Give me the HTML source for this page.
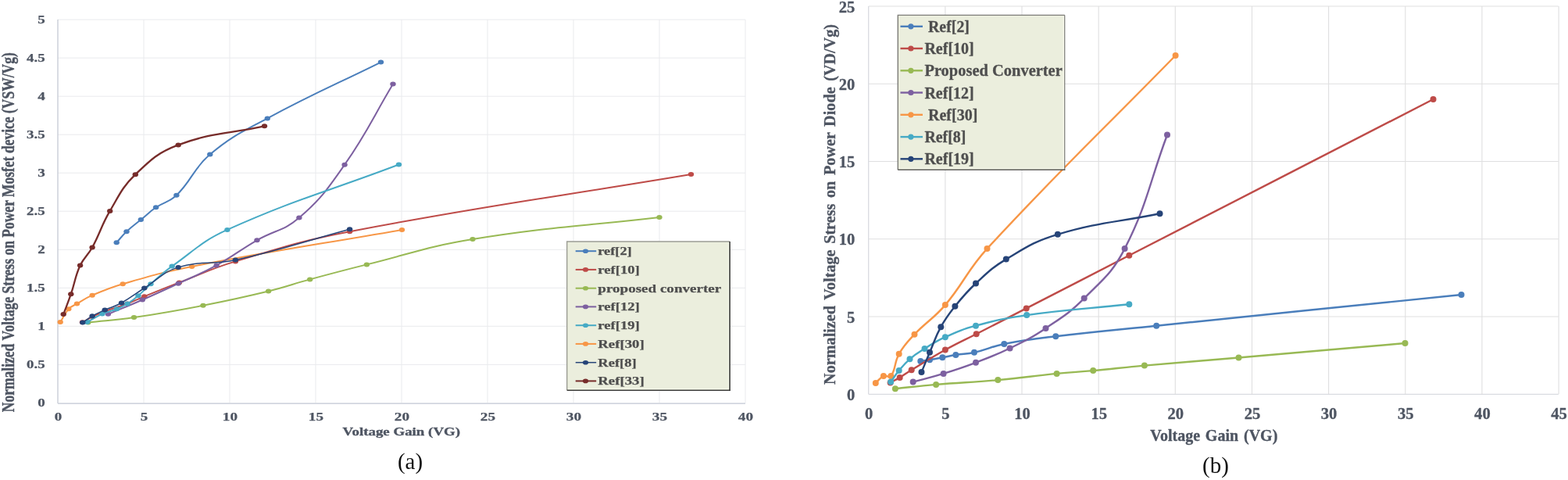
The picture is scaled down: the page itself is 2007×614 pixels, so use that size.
<!DOCTYPE html>
<html lang="en">
<head>
<meta charset="utf-8">
<title>Normalized voltage stress comparison</title>
<style>
html,body{margin:0;padding:0;background:#fff;}
body{width:2007px;height:614px;overflow:hidden;}
svg{display:block;filter:blur(0.45px);}
text{font-family:"Liberation Serif","DejaVu Serif",serif;}
</style>
</head>
<body>
<svg width="2007" height="614" viewBox="0 0 2007 614">
<rect x="0" y="0" width="2007" height="614" fill="#ffffff"/>
<g stroke="#E9EAED" stroke-width="1.0" fill="none"><line x1="184.0" y1="25.1" x2="184.0" y2="515.4"/><line x1="294.0" y1="25.1" x2="294.0" y2="515.4"/><line x1="404.0" y1="25.1" x2="404.0" y2="515.4"/><line x1="514.0" y1="25.1" x2="514.0" y2="515.4"/><line x1="624.0" y1="25.1" x2="624.0" y2="515.4"/><line x1="734.0" y1="25.1" x2="734.0" y2="515.4"/><line x1="844.0" y1="25.1" x2="844.0" y2="515.4"/><line x1="954.0" y1="25.1" x2="954.0" y2="515.4"/><line x1="74.0" y1="466.4" x2="954.0" y2="466.4"/><line x1="74.0" y1="417.3" x2="954.0" y2="417.3"/><line x1="74.0" y1="368.3" x2="954.0" y2="368.3"/><line x1="74.0" y1="319.3" x2="954.0" y2="319.3"/><line x1="74.0" y1="270.2" x2="954.0" y2="270.2"/><line x1="74.0" y1="221.2" x2="954.0" y2="221.2"/><line x1="74.0" y1="172.2" x2="954.0" y2="172.2"/><line x1="74.0" y1="123.2" x2="954.0" y2="123.2"/><line x1="74.0" y1="74.1" x2="954.0" y2="74.1"/><line x1="74.0" y1="25.1" x2="954.0" y2="25.1"/></g>
<line x1="74.0" y1="25.1" x2="74.0" y2="516.1" stroke="#CDD1DA" stroke-width="1.5"/>
<line x1="74.0" y1="516.1" x2="954.0" y2="516.1" stroke="#D2D6DF" stroke-width="1.6"/>
<path d="M112.8,412.6 C137.7,409.8 146.7,409.8 171.5,406.1 C209.2,400.5 222.5,398.1 260.0,390.8 C295.7,383.8 308.3,381.1 343.6,372.5 C366.4,366.9 374.1,363.5 396.7,357.4 C427.5,349.0 438.4,346.1 469.4,338.4 C526.9,324.2 546.6,315.4 605.0,306.0 C705.8,289.7 742.4,289.9 844.0,278.0" fill="none" stroke="#98B954" stroke-width="2.0" stroke-linecap="round" stroke-linejoin="round"/>
<ellipse cx="112.8" cy="412.6" rx="3.7" ry="3.0" fill="#98B954"/><ellipse cx="171.5" cy="406.1" rx="3.7" ry="3.0" fill="#98B954"/><ellipse cx="260.0" cy="390.8" rx="3.7" ry="3.0" fill="#98B954"/><ellipse cx="343.6" cy="372.5" rx="3.7" ry="3.0" fill="#98B954"/><ellipse cx="396.7" cy="357.4" rx="3.7" ry="3.0" fill="#98B954"/><ellipse cx="469.4" cy="338.4" rx="3.7" ry="3.0" fill="#98B954"/><ellipse cx="605.0" cy="306.0" rx="3.7" ry="3.0" fill="#98B954"/><ellipse cx="844.0" cy="278.0" rx="3.7" ry="3.0" fill="#98B954"/>
<path d="M77.2,412.1 C81.7,405.0 82.3,401.4 87.8,395.3 C91.3,391.4 93.8,391.2 98.5,388.5 C106.7,383.7 109.4,381.5 118.1,377.7 C134.3,370.7 140.2,368.1 157.2,363.2 C194.4,352.5 207.6,348.3 245.6,340.9 C359.4,318.9 400.2,313.9 514.5,294.0" fill="none" stroke="#F79646" stroke-width="2.0" stroke-linecap="round" stroke-linejoin="round"/>
<ellipse cx="77.2" cy="412.1" rx="3.7" ry="3.0" fill="#F79646"/><ellipse cx="87.8" cy="395.3" rx="3.7" ry="3.0" fill="#F79646"/><ellipse cx="98.5" cy="388.5" rx="3.7" ry="3.0" fill="#F79646"/><ellipse cx="118.1" cy="377.7" rx="3.7" ry="3.0" fill="#F79646"/><ellipse cx="157.2" cy="363.2" rx="3.7" ry="3.0" fill="#F79646"/><ellipse cx="245.6" cy="340.9" rx="3.7" ry="3.0" fill="#F79646"/><ellipse cx="514.5" cy="294.0" rx="3.7" ry="3.0" fill="#F79646"/>
<path d="M105.5,412.3 C111.0,409.2 112.8,407.8 118.5,405.0 C125.3,401.7 127.9,400.6 135.0,398.0 C146.8,393.6 151.3,392.9 163.0,388.5 C172.4,384.9 175.5,383.0 184.8,379.2 C203.7,371.5 210.3,368.7 229.4,361.4 C259.9,349.7 270.1,343.7 301.4,334.4 C362.9,316.0 384.6,308.2 447.6,296.2 C632.4,260.9 698.8,254.1 884.5,223.0" fill="none" stroke="#BE4B48" stroke-width="2.0" stroke-linecap="round" stroke-linejoin="round"/>
<ellipse cx="105.5" cy="412.3" rx="3.7" ry="3.0" fill="#BE4B48"/><ellipse cx="118.5" cy="405.0" rx="3.7" ry="3.0" fill="#BE4B48"/><ellipse cx="135.0" cy="398.0" rx="3.7" ry="3.0" fill="#BE4B48"/><ellipse cx="163.0" cy="388.5" rx="3.7" ry="3.0" fill="#BE4B48"/><ellipse cx="184.8" cy="379.2" rx="3.7" ry="3.0" fill="#BE4B48"/><ellipse cx="229.4" cy="361.4" rx="3.7" ry="3.0" fill="#BE4B48"/><ellipse cx="301.4" cy="334.4" rx="3.7" ry="3.0" fill="#BE4B48"/><ellipse cx="447.6" cy="296.2" rx="3.7" ry="3.0" fill="#BE4B48"/><ellipse cx="884.5" cy="223.0" rx="3.7" ry="3.0" fill="#BE4B48"/>
<path d="M138.4,401.8 C157.1,394.0 163.8,391.6 182.3,383.5 C201.9,375.0 208.8,371.7 228.2,362.7 C249.1,353.0 257.0,350.5 277.1,339.4 C299.8,326.9 306.5,320.2 329.0,307.3 C351.5,294.4 363.6,295.3 382.9,278.6 C411.2,254.2 419.3,241.7 441.1,210.7 C470.4,169.0 476.7,151.4 503.0,107.6" fill="none" stroke="#7D60A0" stroke-width="2.0" stroke-linecap="round" stroke-linejoin="round"/>
<ellipse cx="138.4" cy="401.8" rx="3.7" ry="3.0" fill="#7D60A0"/><ellipse cx="182.3" cy="383.5" rx="3.7" ry="3.0" fill="#7D60A0"/><ellipse cx="228.2" cy="362.7" rx="3.7" ry="3.0" fill="#7D60A0"/><ellipse cx="277.1" cy="339.4" rx="3.7" ry="3.0" fill="#7D60A0"/><ellipse cx="329.0" cy="307.3" rx="3.7" ry="3.0" fill="#7D60A0"/><ellipse cx="382.9" cy="278.6" rx="3.7" ry="3.0" fill="#7D60A0"/><ellipse cx="441.1" cy="210.7" rx="3.7" ry="3.0" fill="#7D60A0"/><ellipse cx="503.0" cy="107.6" rx="3.7" ry="3.0" fill="#7D60A0"/>
<path d="M111.6,412.0 C119.8,407.6 122.4,405.4 130.9,401.6 C138.5,398.3 141.7,398.4 149.4,395.3 C155.4,392.9 157.5,391.9 163.0,388.5 C169.3,384.6 171.4,383.0 177.0,378.2 C184.1,372.2 186.0,369.3 193.0,363.2 C204.3,353.3 207.9,349.3 220.2,340.6 C249.6,319.8 258.2,308.6 290.9,293.9 C381.6,253.3 417.2,245.9 510.5,210.5" fill="none" stroke="#46AAC5" stroke-width="2.0" stroke-linecap="round" stroke-linejoin="round"/>
<ellipse cx="111.6" cy="412.0" rx="3.7" ry="3.0" fill="#46AAC5"/><ellipse cx="130.9" cy="401.6" rx="3.7" ry="3.0" fill="#46AAC5"/><ellipse cx="149.4" cy="395.3" rx="3.7" ry="3.0" fill="#46AAC5"/><ellipse cx="163.0" cy="388.5" rx="3.7" ry="3.0" fill="#46AAC5"/><ellipse cx="177.0" cy="378.2" rx="3.7" ry="3.0" fill="#46AAC5"/><ellipse cx="193.0" cy="363.2" rx="3.7" ry="3.0" fill="#46AAC5"/><ellipse cx="220.2" cy="340.6" rx="3.7" ry="3.0" fill="#46AAC5"/><ellipse cx="290.9" cy="293.9" rx="3.7" ry="3.0" fill="#46AAC5"/><ellipse cx="510.5" cy="210.5" rx="3.7" ry="3.0" fill="#46AAC5"/>
<path d="M105.8,412.6 C111.0,409.1 112.6,407.4 118.1,404.3 C124.7,400.6 127.3,399.6 134.2,396.5 C143.2,392.5 146.9,392.2 155.5,387.5 C168.4,380.3 172.2,376.4 184.8,368.5 C203.1,357.0 208.0,348.1 228.2,341.9 C257.5,332.9 270.8,339.4 301.4,332.6 C364.1,318.7 385.5,309.9 447.6,293.2" fill="none" stroke="#264478" stroke-width="1.5" stroke-linecap="round" stroke-linejoin="round"/>
<ellipse cx="105.8" cy="412.6" rx="3.7" ry="3.0" fill="#264478"/><ellipse cx="118.1" cy="404.3" rx="3.7" ry="3.0" fill="#264478"/><ellipse cx="134.2" cy="396.5" rx="3.7" ry="3.0" fill="#264478"/><ellipse cx="155.5" cy="387.5" rx="3.7" ry="3.0" fill="#264478"/><ellipse cx="184.8" cy="368.5" rx="3.7" ry="3.0" fill="#264478"/><ellipse cx="228.2" cy="341.9" rx="3.7" ry="3.0" fill="#264478"/><ellipse cx="301.4" cy="332.6" rx="3.7" ry="3.0" fill="#264478"/><ellipse cx="447.6" cy="293.2" rx="3.7" ry="3.0" fill="#264478"/>
<path d="M149.2,310.3 C154.6,304.3 156.1,301.7 162.0,296.2 C169.3,289.3 172.5,287.5 180.3,281.1 C188.5,274.4 190.9,271.3 199.6,265.3 C210.3,258.0 216.7,258.8 225.9,249.8 C246.2,230.0 247.1,215.9 268.8,197.6 C296.6,174.1 309.9,168.9 342.3,151.4 C402.8,118.7 425.8,110.1 487.5,79.6" fill="none" stroke="#4A7EBB" stroke-width="2.0" stroke-linecap="round" stroke-linejoin="round"/>
<ellipse cx="149.2" cy="310.3" rx="3.7" ry="3.0" fill="#4A7EBB"/><ellipse cx="162.0" cy="296.2" rx="3.7" ry="3.0" fill="#4A7EBB"/><ellipse cx="180.3" cy="281.1" rx="3.7" ry="3.0" fill="#4A7EBB"/><ellipse cx="199.6" cy="265.3" rx="3.7" ry="3.0" fill="#4A7EBB"/><ellipse cx="225.9" cy="249.8" rx="3.7" ry="3.0" fill="#4A7EBB"/><ellipse cx="268.8" cy="197.6" rx="3.7" ry="3.0" fill="#4A7EBB"/><ellipse cx="342.3" cy="151.4" rx="3.7" ry="3.0" fill="#4A7EBB"/><ellipse cx="487.5" cy="79.6" rx="3.7" ry="3.0" fill="#4A7EBB"/>
<path d="M81.2,402.0 C85.3,391.0 87.0,387.3 90.8,376.2 C96.1,360.7 95.9,354.3 102.6,339.6 C107.5,328.9 112.4,326.9 118.1,316.5 C128.6,297.2 129.5,288.8 140.7,269.9 C153.0,249.1 156.2,239.7 173.3,223.2 C193.4,203.8 202.1,195.2 228.2,185.4 C272.3,168.9 291.6,171.5 338.5,161.3" fill="none" stroke="#772C2A" stroke-width="2.3" stroke-linecap="round" stroke-linejoin="round"/>
<ellipse cx="81.2" cy="402.0" rx="3.7" ry="3.0" fill="#772C2A"/><ellipse cx="90.8" cy="376.2" rx="3.7" ry="3.0" fill="#772C2A"/><ellipse cx="102.6" cy="339.6" rx="3.7" ry="3.0" fill="#772C2A"/><ellipse cx="118.1" cy="316.5" rx="3.7" ry="3.0" fill="#772C2A"/><ellipse cx="140.7" cy="269.9" rx="3.7" ry="3.0" fill="#772C2A"/><ellipse cx="173.3" cy="223.2" rx="3.7" ry="3.0" fill="#772C2A"/><ellipse cx="228.2" cy="185.4" rx="3.7" ry="3.0" fill="#772C2A"/><ellipse cx="338.5" cy="161.3" rx="3.7" ry="3.0" fill="#772C2A"/>
<text x="57.7" y="520.4" font-size="14.6" text-anchor="end" fill="#4E5562" font-weight="bold" textLength="9.5" lengthAdjust="spacingAndGlyphs" stroke="#4E5562" stroke-width="0.25" stroke-linejoin="round">0</text>
<text x="57.7" y="471.4" font-size="14.6" text-anchor="end" fill="#4E5562" font-weight="bold" textLength="23.6" lengthAdjust="spacingAndGlyphs" stroke="#4E5562" stroke-width="0.25" stroke-linejoin="round">0.5</text>
<text x="57.7" y="422.3" font-size="14.6" text-anchor="end" fill="#4E5562" font-weight="bold" textLength="9.5" lengthAdjust="spacingAndGlyphs" stroke="#4E5562" stroke-width="0.25" stroke-linejoin="round">1</text>
<text x="57.7" y="373.3" font-size="14.6" text-anchor="end" fill="#4E5562" font-weight="bold" textLength="23.6" lengthAdjust="spacingAndGlyphs" stroke="#4E5562" stroke-width="0.25" stroke-linejoin="round">1.5</text>
<text x="57.7" y="324.3" font-size="14.6" text-anchor="end" fill="#4E5562" font-weight="bold" textLength="9.5" lengthAdjust="spacingAndGlyphs" stroke="#4E5562" stroke-width="0.25" stroke-linejoin="round">2</text>
<text x="57.7" y="275.2" font-size="14.6" text-anchor="end" fill="#4E5562" font-weight="bold" textLength="23.6" lengthAdjust="spacingAndGlyphs" stroke="#4E5562" stroke-width="0.25" stroke-linejoin="round">2.5</text>
<text x="57.7" y="226.2" font-size="14.6" text-anchor="end" fill="#4E5562" font-weight="bold" textLength="9.5" lengthAdjust="spacingAndGlyphs" stroke="#4E5562" stroke-width="0.25" stroke-linejoin="round">3</text>
<text x="57.7" y="177.2" font-size="14.6" text-anchor="end" fill="#4E5562" font-weight="bold" textLength="23.6" lengthAdjust="spacingAndGlyphs" stroke="#4E5562" stroke-width="0.25" stroke-linejoin="round">3.5</text>
<text x="57.7" y="128.2" font-size="14.6" text-anchor="end" fill="#4E5562" font-weight="bold" textLength="9.5" lengthAdjust="spacingAndGlyphs" stroke="#4E5562" stroke-width="0.25" stroke-linejoin="round">4</text>
<text x="57.7" y="79.1" font-size="14.6" text-anchor="end" fill="#4E5562" font-weight="bold" textLength="23.6" lengthAdjust="spacingAndGlyphs" stroke="#4E5562" stroke-width="0.25" stroke-linejoin="round">4.5</text>
<text x="57.7" y="30.1" font-size="14.6" text-anchor="end" fill="#4E5562" font-weight="bold" textLength="9.5" lengthAdjust="spacingAndGlyphs" stroke="#4E5562" stroke-width="0.25" stroke-linejoin="round">5</text>
<text x="74.4" y="538.0" font-size="14.6" text-anchor="middle" fill="#4E5562" font-weight="bold" textLength="9.5" lengthAdjust="spacingAndGlyphs" stroke="#4E5562" stroke-width="0.25" stroke-linejoin="round">0</text>
<text x="184.4" y="538.0" font-size="14.6" text-anchor="middle" fill="#4E5562" font-weight="bold" textLength="9.5" lengthAdjust="spacingAndGlyphs" stroke="#4E5562" stroke-width="0.25" stroke-linejoin="round">5</text>
<text x="294.4" y="538.0" font-size="14.6" text-anchor="middle" fill="#4E5562" font-weight="bold" textLength="19.2" lengthAdjust="spacingAndGlyphs" stroke="#4E5562" stroke-width="0.25" stroke-linejoin="round">10</text>
<text x="404.4" y="538.0" font-size="14.6" text-anchor="middle" fill="#4E5562" font-weight="bold" textLength="19.2" lengthAdjust="spacingAndGlyphs" stroke="#4E5562" stroke-width="0.25" stroke-linejoin="round">15</text>
<text x="514.4" y="538.0" font-size="14.6" text-anchor="middle" fill="#4E5562" font-weight="bold" textLength="19.2" lengthAdjust="spacingAndGlyphs" stroke="#4E5562" stroke-width="0.25" stroke-linejoin="round">20</text>
<text x="624.4" y="538.0" font-size="14.6" text-anchor="middle" fill="#4E5562" font-weight="bold" textLength="19.2" lengthAdjust="spacingAndGlyphs" stroke="#4E5562" stroke-width="0.25" stroke-linejoin="round">25</text>
<text x="734.4" y="538.0" font-size="14.6" text-anchor="middle" fill="#4E5562" font-weight="bold" textLength="19.2" lengthAdjust="spacingAndGlyphs" stroke="#4E5562" stroke-width="0.25" stroke-linejoin="round">30</text>
<text x="844.4" y="538.0" font-size="14.6" text-anchor="middle" fill="#4E5562" font-weight="bold" textLength="19.2" lengthAdjust="spacingAndGlyphs" stroke="#4E5562" stroke-width="0.25" stroke-linejoin="round">35</text>
<text x="954.4" y="538.0" font-size="14.6" text-anchor="middle" fill="#4E5562" font-weight="bold" textLength="19.2" lengthAdjust="spacingAndGlyphs" stroke="#4E5562" stroke-width="0.25" stroke-linejoin="round">40</text>
<text x="513.8" y="557.3" font-size="15.2" text-anchor="middle" fill="#4E5562" font-weight="bold" textLength="150.5" lengthAdjust="spacingAndGlyphs" stroke="#4E5562" stroke-width="0.35" stroke-linejoin="round">Voltage Gain (VG)</text>
<g transform="translate(17.9,297.2) rotate(-90)"><text x="0.0" y="0.0" font-size="23.5" text-anchor="middle" fill="#4E5562" font-weight="bold" textLength="460.0" lengthAdjust="spacingAndGlyphs" stroke="#4E5562" stroke-width="0.45" stroke-linejoin="round">Normalized Voltage Stress on Power Mosfet device (VSW/Vg)</text>
</g>
<text x="525.0" y="600.0" font-size="29" text-anchor="middle" fill="#111111" font-weight="normal">(a)</text>
<rect x="725.7" y="309.0" width="208.4" height="190.2" fill="#EBEEDD"/><path d="M726.7,497.8 H933.1 M932.7,310.0 V498.2" stroke="#FCFDF0" stroke-width="1.2" fill="none"/><path d="M725.7,499.2 V309.0 H934.1" stroke="#9C9D95" stroke-width="1.4" fill="none"/><path d="M934.1,499.9 V309.0" stroke="#454543" stroke-width="1.7" fill="none"/><path d="M725.7,499.2 H935.0" stroke="#3c3c3a" stroke-width="1.5" fill="none"/>
<line x1="736.7" y1="321.2" x2="763.2" y2="321.2" stroke="#4A7EBB" stroke-width="2"/><ellipse cx="749.5" cy="321.2" rx="3.6" ry="2.8" fill="#4A7EBB"/>
<text x="765.3" y="326.1" font-size="14.2" text-anchor="start" fill="#4e4e4e" font-weight="bold" textLength="43.4" lengthAdjust="spacingAndGlyphs" stroke="#4e4e4e" stroke-width="0.25" stroke-linejoin="round">ref[2]</text>
<line x1="736.7" y1="344.9" x2="763.2" y2="344.9" stroke="#BE4B48" stroke-width="2"/><ellipse cx="749.5" cy="344.9" rx="3.6" ry="2.8" fill="#BE4B48"/>
<text x="765.3" y="349.8" font-size="14.2" text-anchor="start" fill="#4e4e4e" font-weight="bold" textLength="53.4" lengthAdjust="spacingAndGlyphs" stroke="#4e4e4e" stroke-width="0.25" stroke-linejoin="round">ref[10]</text>
<line x1="736.7" y1="368.7" x2="763.2" y2="368.7" stroke="#98B954" stroke-width="2"/><ellipse cx="749.5" cy="368.7" rx="3.6" ry="2.8" fill="#98B954"/>
<text x="765.3" y="373.6" font-size="14.2" text-anchor="start" fill="#4e4e4e" font-weight="bold" textLength="157.9" lengthAdjust="spacingAndGlyphs" stroke="#4e4e4e" stroke-width="0.25" stroke-linejoin="round">proposed converter</text>
<line x1="736.7" y1="392.4" x2="763.2" y2="392.4" stroke="#7D60A0" stroke-width="2"/><ellipse cx="749.5" cy="392.4" rx="3.6" ry="2.8" fill="#7D60A0"/>
<text x="765.3" y="397.3" font-size="14.2" text-anchor="start" fill="#4e4e4e" font-weight="bold" textLength="53.4" lengthAdjust="spacingAndGlyphs" stroke="#4e4e4e" stroke-width="0.25" stroke-linejoin="round">ref[12]</text>
<line x1="736.7" y1="416.2" x2="763.2" y2="416.2" stroke="#46AAC5" stroke-width="2"/><ellipse cx="749.5" cy="416.2" rx="3.6" ry="2.8" fill="#46AAC5"/>
<text x="765.3" y="421.1" font-size="14.2" text-anchor="start" fill="#4e4e4e" font-weight="bold" textLength="53.4" lengthAdjust="spacingAndGlyphs" stroke="#4e4e4e" stroke-width="0.25" stroke-linejoin="round">ref[19]</text>
<line x1="736.7" y1="439.9" x2="763.2" y2="439.9" stroke="#F79646" stroke-width="2"/><ellipse cx="749.5" cy="439.9" rx="3.6" ry="2.8" fill="#F79646"/>
<text x="765.3" y="444.8" font-size="14.2" text-anchor="start" fill="#4e4e4e" font-weight="bold" textLength="59.4" lengthAdjust="spacingAndGlyphs" stroke="#4e4e4e" stroke-width="0.25" stroke-linejoin="round">Ref[30]</text>
<line x1="736.7" y1="463.7" x2="763.2" y2="463.7" stroke="#264478" stroke-width="1.5"/><ellipse cx="749.5" cy="463.7" rx="3.6" ry="2.8" fill="#264478"/>
<text x="765.3" y="468.6" font-size="14.2" text-anchor="start" fill="#4e4e4e" font-weight="bold" textLength="49.4" lengthAdjust="spacingAndGlyphs" stroke="#4e4e4e" stroke-width="0.25" stroke-linejoin="round">Ref[8]</text>
<line x1="736.7" y1="487.4" x2="763.2" y2="487.4" stroke="#772C2A" stroke-width="2"/><ellipse cx="749.5" cy="487.4" rx="3.6" ry="2.8" fill="#772C2A"/>
<text x="765.3" y="492.3" font-size="14.2" text-anchor="start" fill="#4e4e4e" font-weight="bold" textLength="59.4" lengthAdjust="spacingAndGlyphs" stroke="#4e4e4e" stroke-width="0.25" stroke-linejoin="round">Ref[33]</text>
<g stroke="#DFDFE0" stroke-width="1.1" fill="none"><line x1="1209.9" y1="8.0" x2="1209.9" y2="504.3"/><line x1="1308.0" y1="8.0" x2="1308.0" y2="504.3"/><line x1="1406.2" y1="8.0" x2="1406.2" y2="504.3"/><line x1="1504.3" y1="8.0" x2="1504.3" y2="504.3"/><line x1="1602.5" y1="8.0" x2="1602.5" y2="504.3"/><line x1="1700.6" y1="8.0" x2="1700.6" y2="504.3"/><line x1="1798.8" y1="8.0" x2="1798.8" y2="504.3"/><line x1="1896.9" y1="8.0" x2="1896.9" y2="504.3"/><line x1="1995.1" y1="8.0" x2="1995.1" y2="504.3"/><line x1="1111.7" y1="405.0" x2="1994.8" y2="405.0"/><line x1="1111.7" y1="305.8" x2="1994.8" y2="305.8"/><line x1="1111.7" y1="206.5" x2="1994.8" y2="206.5"/><line x1="1111.7" y1="107.3" x2="1994.8" y2="107.3"/><line x1="1111.7" y1="8.0" x2="1994.8" y2="8.0"/></g>
<line x1="1111.7" y1="8.0" x2="1111.7" y2="504.3" stroke="#D9DBE0" stroke-width="1.3"/>
<line x1="1111.7" y1="504.3" x2="1994.8" y2="504.3" stroke="#D9DBE0" stroke-width="1.3"/>
<path d="M1178.3,462.0 C1183.3,461.3 1185.0,461.1 1190.0,460.3 C1196.9,459.1 1199.4,458.6 1206.3,457.3 C1213.6,455.9 1216.1,455.2 1223.4,454.0 C1233.4,452.4 1237.2,453.0 1247.0,450.8 C1263.5,447.1 1268.7,443.3 1285.3,440.0 C1313.1,434.5 1323.1,433.6 1351.3,430.2 C1406.0,423.7 1425.4,422.3 1480.2,416.7 C1646.1,399.7 1704.6,393.9 1870.5,377.0" fill="none" stroke="#4A7EBB" stroke-width="2.4" stroke-linecap="round" stroke-linejoin="round"/>
<ellipse cx="1178.3" cy="462.0" rx="4.0" ry="4.0" fill="#4A7EBB"/><ellipse cx="1190.0" cy="460.3" rx="4.0" ry="4.0" fill="#4A7EBB"/><ellipse cx="1206.3" cy="457.3" rx="4.0" ry="4.0" fill="#4A7EBB"/><ellipse cx="1223.4" cy="454.0" rx="4.0" ry="4.0" fill="#4A7EBB"/><ellipse cx="1247.0" cy="450.8" rx="4.0" ry="4.0" fill="#4A7EBB"/><ellipse cx="1285.3" cy="440.0" rx="4.0" ry="4.0" fill="#4A7EBB"/><ellipse cx="1351.3" cy="430.2" rx="4.0" ry="4.0" fill="#4A7EBB"/><ellipse cx="1480.2" cy="416.7" rx="4.0" ry="4.0" fill="#4A7EBB"/><ellipse cx="1870.5" cy="377.0" rx="4.0" ry="4.0" fill="#4A7EBB"/>
<path d="M1139.6,489.4 C1144.7,486.6 1146.7,485.9 1151.7,482.9 C1158.2,479.0 1160.2,477.2 1166.7,473.3 C1185.0,462.2 1191.2,457.9 1209.9,447.5 C1226.5,438.3 1232.8,435.8 1249.7,427.2 C1276.9,413.3 1286.5,408.4 1313.7,394.4 C1369.6,365.7 1389.4,355.5 1445.3,326.8 C1610.7,241.9 1669.1,211.9 1834.5,127.0" fill="none" stroke="#BE4B48" stroke-width="2.4" stroke-linecap="round" stroke-linejoin="round"/>
<ellipse cx="1139.6" cy="489.4" rx="4.0" ry="4.0" fill="#BE4B48"/><ellipse cx="1151.7" cy="482.9" rx="4.0" ry="4.0" fill="#BE4B48"/><ellipse cx="1166.7" cy="473.3" rx="4.0" ry="4.0" fill="#BE4B48"/><ellipse cx="1209.9" cy="447.5" rx="4.0" ry="4.0" fill="#BE4B48"/><ellipse cx="1249.7" cy="427.2" rx="4.0" ry="4.0" fill="#BE4B48"/><ellipse cx="1313.7" cy="394.4" rx="4.0" ry="4.0" fill="#BE4B48"/><ellipse cx="1445.3" cy="326.8" rx="4.0" ry="4.0" fill="#BE4B48"/><ellipse cx="1834.5" cy="127.0" rx="4.0" ry="4.0" fill="#BE4B48"/>
<path d="M1145.9,497.2 C1168.1,494.9 1175.9,493.8 1198.1,491.9 C1231.7,489.1 1243.7,489.1 1277.3,486.1 C1309.4,483.2 1320.6,481.1 1352.6,477.9 C1372.4,476.0 1379.4,475.9 1399.2,474.1 C1427.1,471.5 1437.0,470.1 1464.9,467.6 C1516.1,463.0 1534.3,461.9 1585.5,457.5 C1676.0,449.7 1708.0,446.9 1798.5,439.0" fill="none" stroke="#98B954" stroke-width="2.4" stroke-linecap="round" stroke-linejoin="round"/>
<ellipse cx="1145.9" cy="497.2" rx="4.0" ry="4.0" fill="#98B954"/><ellipse cx="1198.1" cy="491.9" rx="4.0" ry="4.0" fill="#98B954"/><ellipse cx="1277.3" cy="486.1" rx="4.0" ry="4.0" fill="#98B954"/><ellipse cx="1352.6" cy="477.9" rx="4.0" ry="4.0" fill="#98B954"/><ellipse cx="1399.2" cy="474.1" rx="4.0" ry="4.0" fill="#98B954"/><ellipse cx="1464.9" cy="467.6" rx="4.0" ry="4.0" fill="#98B954"/><ellipse cx="1585.5" cy="457.5" rx="4.0" ry="4.0" fill="#98B954"/><ellipse cx="1798.5" cy="439.0" rx="4.0" ry="4.0" fill="#98B954"/>
<path d="M1168.7,488.6 C1185.2,484.1 1191.2,483.0 1207.6,477.9 C1225.4,472.4 1231.6,470.4 1249.0,463.8 C1267.8,456.6 1274.6,454.3 1292.6,445.5 C1312.6,435.7 1320.0,432.3 1338.5,419.9 C1360.4,405.2 1369.1,400.3 1387.7,381.6 C1412.1,357.0 1424.0,348.8 1439.6,318.1 C1469.2,259.9 1470.9,234.4 1494.0,172.5" fill="none" stroke="#7D60A0" stroke-width="2.4" stroke-linecap="round" stroke-linejoin="round"/>
<ellipse cx="1168.7" cy="488.6" rx="4.0" ry="4.0" fill="#7D60A0"/><ellipse cx="1207.6" cy="477.9" rx="4.0" ry="4.0" fill="#7D60A0"/><ellipse cx="1249.0" cy="463.8" rx="4.0" ry="4.0" fill="#7D60A0"/><ellipse cx="1292.6" cy="445.5" rx="4.0" ry="4.0" fill="#7D60A0"/><ellipse cx="1338.5" cy="419.9" rx="4.0" ry="4.0" fill="#7D60A0"/><ellipse cx="1387.7" cy="381.6" rx="4.0" ry="4.0" fill="#7D60A0"/><ellipse cx="1439.6" cy="318.1" rx="4.0" ry="4.0" fill="#7D60A0"/><ellipse cx="1494.0" cy="172.5" rx="4.0" ry="4.0" fill="#7D60A0"/>
<path d="M1120.8,489.9 C1125.1,486.2 1126.0,483.3 1130.9,481.1 C1134.4,479.5 1138.4,484.0 1140.4,481.1 C1146.8,472.0 1144.5,463.8 1150.7,452.8 C1157.3,441.1 1161.2,437.6 1170.5,427.7 C1186.4,410.9 1195.0,407.7 1209.9,390.1 C1234.5,361.1 1237.7,346.1 1263.5,318.1 C1362.9,210.5 1402.1,176.0 1504.6,71.0" fill="none" stroke="#F79646" stroke-width="2.4" stroke-linecap="round" stroke-linejoin="round"/>
<ellipse cx="1120.8" cy="489.9" rx="4.0" ry="4.0" fill="#F79646"/><ellipse cx="1130.9" cy="481.1" rx="4.0" ry="4.0" fill="#F79646"/><ellipse cx="1140.4" cy="481.1" rx="4.0" ry="4.0" fill="#F79646"/><ellipse cx="1150.7" cy="452.8" rx="4.0" ry="4.0" fill="#F79646"/><ellipse cx="1170.5" cy="427.7" rx="4.0" ry="4.0" fill="#F79646"/><ellipse cx="1209.9" cy="390.1" rx="4.0" ry="4.0" fill="#F79646"/><ellipse cx="1263.5" cy="318.1" rx="4.0" ry="4.0" fill="#F79646"/><ellipse cx="1504.6" cy="71.0" rx="4.0" ry="4.0" fill="#F79646"/>
<path d="M1140.2,488.4 C1144.7,482.3 1145.9,479.9 1150.7,474.1 C1156.2,467.5 1158.0,464.9 1164.5,459.3 C1171.9,452.9 1175.1,451.2 1183.5,446.0 C1194.4,439.2 1198.2,436.4 1209.9,431.2 C1226.0,424.0 1231.9,421.3 1249.0,416.7 C1276.3,409.4 1286.2,407.0 1314.2,403.1 C1369.6,395.4 1389.6,395.2 1445.3,389.3" fill="none" stroke="#46AAC5" stroke-width="2.4" stroke-linecap="round" stroke-linejoin="round"/>
<ellipse cx="1140.2" cy="488.4" rx="4.0" ry="4.0" fill="#46AAC5"/><ellipse cx="1150.7" cy="474.1" rx="4.0" ry="4.0" fill="#46AAC5"/><ellipse cx="1164.5" cy="459.3" rx="4.0" ry="4.0" fill="#46AAC5"/><ellipse cx="1183.5" cy="446.0" rx="4.0" ry="4.0" fill="#46AAC5"/><ellipse cx="1209.9" cy="431.2" rx="4.0" ry="4.0" fill="#46AAC5"/><ellipse cx="1249.0" cy="416.7" rx="4.0" ry="4.0" fill="#46AAC5"/><ellipse cx="1314.2" cy="403.1" rx="4.0" ry="4.0" fill="#46AAC5"/><ellipse cx="1445.3" cy="389.3" rx="4.0" ry="4.0" fill="#46AAC5"/>
<path d="M1179.5,476.1 C1184.0,465.3 1185.4,461.5 1190.0,450.8 C1196.0,436.9 1197.0,431.4 1204.3,418.2 C1210.8,406.3 1213.9,402.4 1222.4,391.8 C1232.9,378.7 1236.7,373.9 1249.0,362.5 C1264.5,348.3 1269.8,342.4 1287.8,331.6 C1314.4,315.7 1324.2,308.6 1353.8,299.8 C1407.8,283.8 1429.0,284.5 1484.5,273.2" fill="none" stroke="#264478" stroke-width="2.4" stroke-linecap="round" stroke-linejoin="round"/>
<ellipse cx="1179.5" cy="476.1" rx="4.0" ry="4.0" fill="#264478"/><ellipse cx="1190.0" cy="450.8" rx="4.0" ry="4.0" fill="#264478"/><ellipse cx="1204.3" cy="418.2" rx="4.0" ry="4.0" fill="#264478"/><ellipse cx="1222.4" cy="391.8" rx="4.0" ry="4.0" fill="#264478"/><ellipse cx="1249.0" cy="362.5" rx="4.0" ry="4.0" fill="#264478"/><ellipse cx="1287.8" cy="331.6" rx="4.0" ry="4.0" fill="#264478"/><ellipse cx="1353.8" cy="299.8" rx="4.0" ry="4.0" fill="#264478"/><ellipse cx="1484.5" cy="273.2" rx="4.0" ry="4.0" fill="#264478"/>
<text x="1094.3" y="511.9" font-size="22" text-anchor="end" fill="#4E5562" font-weight="bold" textLength="10.3" lengthAdjust="spacingAndGlyphs" stroke="#4E5562" stroke-width="0.35" stroke-linejoin="round">0</text>
<text x="1094.3" y="412.6" font-size="22" text-anchor="end" fill="#4E5562" font-weight="bold" textLength="10.3" lengthAdjust="spacingAndGlyphs" stroke="#4E5562" stroke-width="0.35" stroke-linejoin="round">5</text>
<text x="1094.3" y="313.4" font-size="22" text-anchor="end" fill="#4E5562" font-weight="bold" textLength="20.6" lengthAdjust="spacingAndGlyphs" stroke="#4E5562" stroke-width="0.35" stroke-linejoin="round">10</text>
<text x="1094.3" y="214.1" font-size="22" text-anchor="end" fill="#4E5562" font-weight="bold" textLength="20.6" lengthAdjust="spacingAndGlyphs" stroke="#4E5562" stroke-width="0.35" stroke-linejoin="round">15</text>
<text x="1094.3" y="114.9" font-size="22" text-anchor="end" fill="#4E5562" font-weight="bold" textLength="20.6" lengthAdjust="spacingAndGlyphs" stroke="#4E5562" stroke-width="0.35" stroke-linejoin="round">20</text>
<text x="1094.3" y="15.6" font-size="22" text-anchor="end" fill="#4E5562" font-weight="bold" textLength="20.6" lengthAdjust="spacingAndGlyphs" stroke="#4E5562" stroke-width="0.35" stroke-linejoin="round">25</text>
<text x="1112.2" y="535.9" font-size="22" text-anchor="middle" fill="#4E5562" font-weight="bold" textLength="10.3" lengthAdjust="spacingAndGlyphs" stroke="#4E5562" stroke-width="0.35" stroke-linejoin="round">0</text>
<text x="1210.4" y="535.9" font-size="22" text-anchor="middle" fill="#4E5562" font-weight="bold" textLength="10.3" lengthAdjust="spacingAndGlyphs" stroke="#4E5562" stroke-width="0.35" stroke-linejoin="round">5</text>
<text x="1308.5" y="535.9" font-size="22" text-anchor="middle" fill="#4E5562" font-weight="bold" textLength="20.6" lengthAdjust="spacingAndGlyphs" stroke="#4E5562" stroke-width="0.35" stroke-linejoin="round">10</text>
<text x="1406.7" y="535.9" font-size="22" text-anchor="middle" fill="#4E5562" font-weight="bold" textLength="20.6" lengthAdjust="spacingAndGlyphs" stroke="#4E5562" stroke-width="0.35" stroke-linejoin="round">15</text>
<text x="1504.8" y="535.9" font-size="22" text-anchor="middle" fill="#4E5562" font-weight="bold" textLength="20.6" lengthAdjust="spacingAndGlyphs" stroke="#4E5562" stroke-width="0.35" stroke-linejoin="round">20</text>
<text x="1603.0" y="535.9" font-size="22" text-anchor="middle" fill="#4E5562" font-weight="bold" textLength="20.6" lengthAdjust="spacingAndGlyphs" stroke="#4E5562" stroke-width="0.35" stroke-linejoin="round">25</text>
<text x="1701.1" y="535.9" font-size="22" text-anchor="middle" fill="#4E5562" font-weight="bold" textLength="20.6" lengthAdjust="spacingAndGlyphs" stroke="#4E5562" stroke-width="0.35" stroke-linejoin="round">30</text>
<text x="1799.2" y="535.9" font-size="22" text-anchor="middle" fill="#4E5562" font-weight="bold" textLength="20.6" lengthAdjust="spacingAndGlyphs" stroke="#4E5562" stroke-width="0.35" stroke-linejoin="round">35</text>
<text x="1897.4" y="535.9" font-size="22" text-anchor="middle" fill="#4E5562" font-weight="bold" textLength="20.6" lengthAdjust="spacingAndGlyphs" stroke="#4E5562" stroke-width="0.35" stroke-linejoin="round">40</text>
<text x="1995.6" y="535.9" font-size="22" text-anchor="middle" fill="#4E5562" font-weight="bold" textLength="20.6" lengthAdjust="spacingAndGlyphs" stroke="#4E5562" stroke-width="0.35" stroke-linejoin="round">45</text>
<text x="1553.8" y="563.7" font-size="21.5" text-anchor="middle" fill="#4E5562" font-weight="bold" textLength="163.0" lengthAdjust="spacingAndGlyphs" word-spacing="2" stroke="#4E5562" stroke-width="0.35" stroke-linejoin="round">Voltage Gain (VG)</text>
<g transform="translate(1068.6,261.4) rotate(-90)"><text x="0.0" y="0.0" font-size="22" text-anchor="middle" fill="#4E5562" font-weight="bold" textLength="461.0" lengthAdjust="spacingAndGlyphs" xml:space="preserve" word-spacing="2.8" stroke="#4E5562" stroke-width="0.35" stroke-linejoin="round">Normalized Voltage Stress on Power Diode (VD/Vg)</text>
</g>
<text x="1555.9" y="604.7" font-size="29" text-anchor="middle" fill="#111111" font-weight="normal">(b)</text>
<rect x="1149.3" y="19.4" width="213.5" height="197.8" fill="#EBEEDD"/><path d="M1150.3,215.8 H1361.8 M1361.4,20.4 V216.2" stroke="#FCFDF0" stroke-width="1.2" fill="none"/><path d="M1149.3,217.2 V19.4 H1362.8" stroke="#7d7d78" stroke-width="1.4" fill="none"/><path d="M1362.8,217.8 V19.4" stroke="#62625e" stroke-width="1.0" fill="none"/><path d="M1149.3,217.2 H1363.3" stroke="#3c3c3a" stroke-width="1.3" fill="none"/>
<line x1="1152.5" y1="33.8" x2="1181" y2="33.8" stroke="#4A7EBB" stroke-width="2.4"/><circle cx="1165.9" cy="33.8" r="3.6" fill="#4A7EBB"/>
<text x="1188.0" y="40.8" font-size="20.6" text-anchor="start" fill="#4e4e4e" font-weight="bold" textLength="53.0" lengthAdjust="spacingAndGlyphs" stroke="#4e4e4e" stroke-width="0.3" stroke-linejoin="round">Ref[2]</text>
<line x1="1152.5" y1="62.0" x2="1181" y2="62.0" stroke="#BE4B48" stroke-width="2.4"/><circle cx="1165.9" cy="62.0" r="3.6" fill="#BE4B48"/>
<text x="1183.4" y="69.0" font-size="20.6" text-anchor="start" fill="#4e4e4e" font-weight="bold" textLength="63.4" lengthAdjust="spacingAndGlyphs" stroke="#4e4e4e" stroke-width="0.3" stroke-linejoin="round">Ref[10]</text>
<line x1="1152.5" y1="90.3" x2="1181" y2="90.3" stroke="#98B954" stroke-width="2.4"/><circle cx="1165.9" cy="90.3" r="3.6" fill="#98B954"/>
<text x="1183.4" y="97.3" font-size="20.6" text-anchor="start" fill="#4e4e4e" font-weight="bold" textLength="176.4" lengthAdjust="spacingAndGlyphs" stroke="#4e4e4e" stroke-width="0.3" stroke-linejoin="round">Proposed Converter</text>
<line x1="1152.5" y1="118.5" x2="1181" y2="118.5" stroke="#7D60A0" stroke-width="2.4"/><circle cx="1165.9" cy="118.5" r="3.6" fill="#7D60A0"/>
<text x="1183.4" y="125.5" font-size="20.6" text-anchor="start" fill="#4e4e4e" font-weight="bold" textLength="63.4" lengthAdjust="spacingAndGlyphs" stroke="#4e4e4e" stroke-width="0.3" stroke-linejoin="round">Ref[12]</text>
<line x1="1152.5" y1="146.8" x2="1181" y2="146.8" stroke="#F79646" stroke-width="2.4"/><circle cx="1165.9" cy="146.8" r="3.6" fill="#F79646"/>
<text x="1188.0" y="153.8" font-size="20.6" text-anchor="start" fill="#4e4e4e" font-weight="bold" textLength="63.4" lengthAdjust="spacingAndGlyphs" stroke="#4e4e4e" stroke-width="0.3" stroke-linejoin="round">Ref[30]</text>
<line x1="1152.5" y1="175.1" x2="1181" y2="175.1" stroke="#46AAC5" stroke-width="2.4"/><circle cx="1165.9" cy="175.1" r="3.6" fill="#46AAC5"/>
<text x="1183.4" y="182.1" font-size="20.6" text-anchor="start" fill="#4e4e4e" font-weight="bold" textLength="53.0" lengthAdjust="spacingAndGlyphs" stroke="#4e4e4e" stroke-width="0.3" stroke-linejoin="round">Ref[8]</text>
<line x1="1152.5" y1="203.3" x2="1181" y2="203.3" stroke="#264478" stroke-width="2.4"/><circle cx="1165.9" cy="203.3" r="3.6" fill="#264478"/>
<text x="1183.4" y="210.3" font-size="20.6" text-anchor="start" fill="#4e4e4e" font-weight="bold" textLength="63.4" lengthAdjust="spacingAndGlyphs" stroke="#4e4e4e" stroke-width="0.3" stroke-linejoin="round">Ref[19]</text>
</svg>
</body>
</html>
